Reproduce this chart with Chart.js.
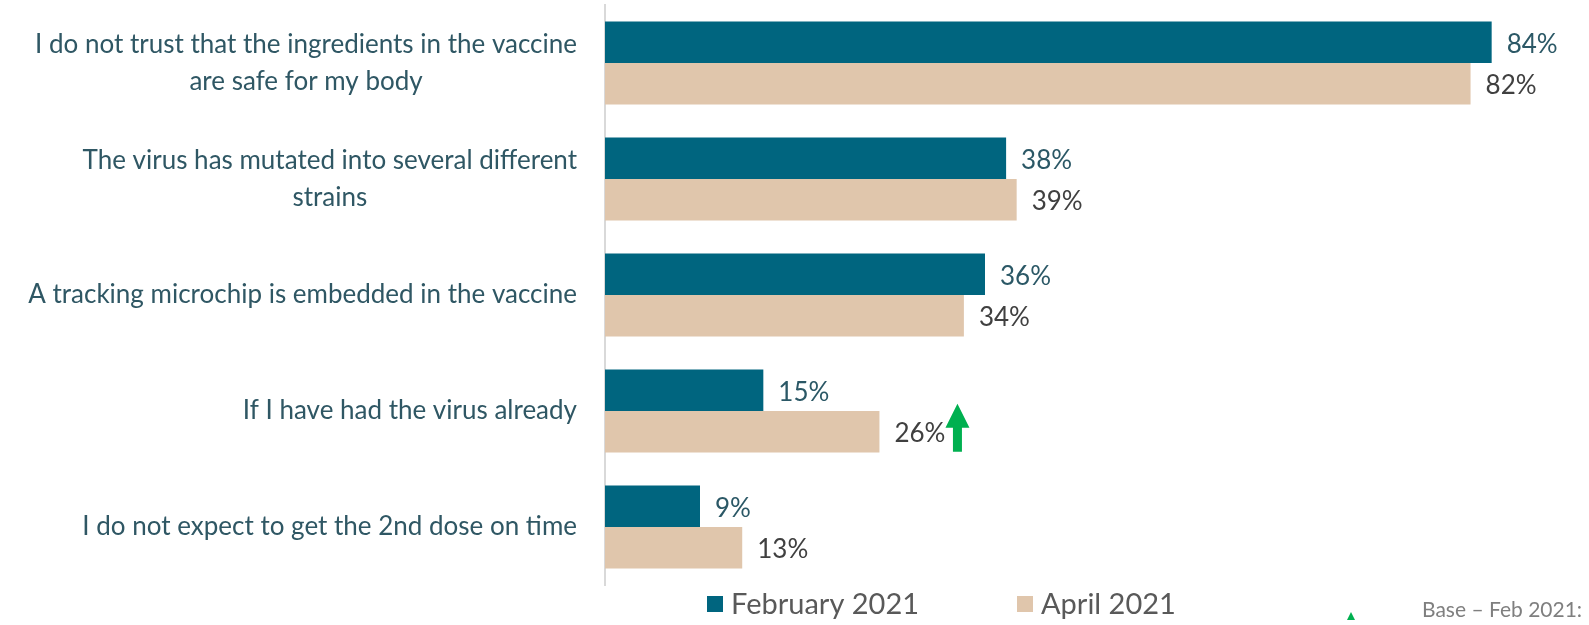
<!DOCTYPE html>
<html>
<head>
<meta charset="utf-8">
<script src="https://cdn.jsdelivr.net/npm/chart.js@4"></script>
<style>
  html, body { margin: 0; padding: 0; background: #fff; overflow: hidden; }
  #wrap { width: 1589px; height: 625px; }
</style>
</head>
<body>
<div id="wrap"><canvas id="chart"></canvas></div>
<script>
const categories = [
    ['I do not trust that the ingredients in the vaccine', 'are safe for my body'],
    ['The virus has mutated into several different', 'strains'],
    'A tracking microchip is embedded in the vaccine',
    'If I have had the virus already',
    'I do not expect to get the 2nd dose on time'
];
const feb2021 = [84, 38, 36, 15, 9];
const apr2021 = [82, 39, 34, 26, 13];
const seriesNames = ['February 2021', 'April 2021'];
const upArrowIndex = 3;

const teal = '#00657F';
const beige = '#E0C6AC';
const fontFamily = 'Lato, "Open Sans", sans-serif';

const extras = {
    id: 'extras',
    afterDatasetsDraw(chart) {
        const c = chart.ctx;
        c.save();

        // category labels: block right-aligned to the axis, lines centred in the block
        const yScale = chart.scales.y;
        c.font = '26px ' + fontFamily;
        c.textBaseline = 'middle';
        c.fillStyle = '#2F5764';
        c.textAlign = 'center';
        categories.forEach((lab, i) => {
            const lines = Array.isArray(lab) ? lab : [lab];
            const w = Math.max(...lines.map(t => c.measureText(t).width));
            const cx = chart.chartArea.left - 28 - w / 2;
            const cy = yScale.getPixelForValue(i);
            lines.forEach((t, k) => {
                c.fillText(t, cx, cy + (k - (lines.length - 1) / 2) * 37);
            });
        });

        c.textAlign = 'left';
        chart.data.datasets.forEach((ds, i) => {
            c.fillStyle = i === 0 ? '#2B5866' : '#404040';
            chart.getDatasetMeta(i).data.forEach((bar, j) => {
                c.fillText(ds.data[j] + '%', bar.x + 15, bar.y + 2);
            });
        });

        // green arrow next to the rising value
        const b = chart.getDatasetMeta(1).data[upArrowIndex];
        const ax = b.x + 78;
        const bottom = b.y + 20;
        c.fillStyle = '#00B050';
        c.beginPath();
        c.moveTo(ax, bottom - 48);
        c.lineTo(ax + 12, bottom - 24);
        c.lineTo(ax + 4.5, bottom - 24);
        c.lineTo(ax + 4.5, bottom);
        c.lineTo(ax - 4.5, bottom);
        c.lineTo(ax - 4.5, bottom - 24);
        c.lineTo(ax - 12, bottom - 24);
        c.closePath();
        c.fill();

        // legend
        c.font = '29px ' + fontFamily;
        const ly = 604;
        [[707, teal], [1017, beige]].forEach(([lx, col], k) => {
            c.fillStyle = col;
            c.fillRect(lx, ly - 8, 16, 16);
            c.fillStyle = '#595959';
            c.fillText(seriesNames[k], lx + 24, ly + 1);
        });

        // footnote (cut off at edge)
        c.font = '21px ' + fontFamily;
        c.fillStyle = '#7F7F7F';
        c.fillText('Base \u2013 Feb 2021:', 1422, 610);
        c.fillStyle = '#00B050';
        c.beginPath();
        c.moveTo(1351, 612);
        c.lineTo(1355, 620);
        c.lineTo(1347, 620);
        c.closePath();
        c.fill();
        c.restore();
    }
};

new Chart(document.getElementById('chart'), {
    type: 'bar',
    data: {
        labels: categories,
        datasets: [{
            label: seriesNames[0],
            data: feb2021,
            backgroundColor: teal,
            categoryPercentage: 0.715,
            barPercentage: 1.0
        }, {
            label: seriesNames[1],
            data: apr2021,
            backgroundColor: beige,
            categoryPercentage: 0.715,
            barPercentage: 1.0
        }]
    },
    options: {
        indexAxis: 'y',
        responsive: true,
        maintainAspectRatio: false,
        animation: false,
        layout: {
            padding: { top: 5, bottom: 40, left: 0, right: 34 }
        },
        plugins: {
            legend: { display: false },
            tooltip: { enabled: false }
        },
        scales: {
            x: {
                display: false,
                min: 0,
                max: 90
            },
            y: {
                grid: { display: false },
                border: { display: true, color: '#D9D9D9', width: 2 },
                ticks: { display: false },
                afterFit(scale) {
                    scale.width = 605;
                    scale.paddingTop = 0;
                    scale.paddingBottom = 0;
                }
            }
        }
    },
    plugins: [extras]
});
</script>
</body>
</html>
